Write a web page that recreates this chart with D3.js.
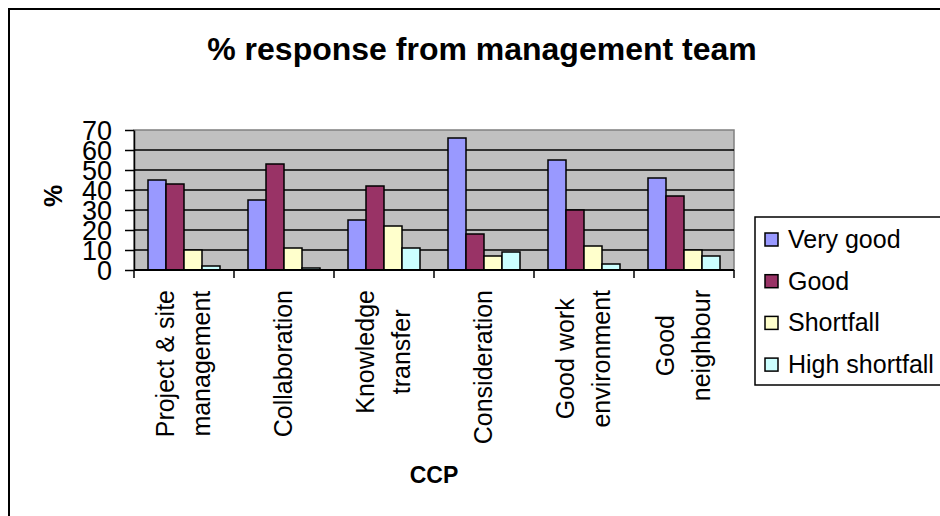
<html>
<head>
    <meta http-equiv="Content-Type" content="text/html;charset=utf-8">
    <title>% response from management team</title>
    <style>
        body { margin: 0; background: #fff; }
        text { font-family: Arial, "Liberation Sans", sans-serif; }
    </style>
</head>
<body>
</body>
<script type="text/javascript" src="https://cdn.jsdelivr.net/npm/d3@7/dist/d3.min.js"></script>
<script>
    var w = 940, h = 516;

    // chart data
    var categories = [
        ['Project & site', 'management'],
        ['Collaboration'],
        ['Knowledge', 'transfer'],
        ['Consideration'],
        ['Good work', 'environment'],
        ['Good', 'neighbour']
    ];
    var seriesNames = ['Very good', 'Good', 'Shortfall', 'High shortfall'];
    var veryGood = [45, 35, 25, 66, 55, 46];
    var good = [43, 53, 42, 18, 30, 37];
    var shortfall = [10, 11, 22, 7, 12, 10];
    var highShortfall = [2, 1, 11, 9, 3, 7];
    var yTicks = [0, 10, 20, 30, 40, 50, 60, 70];
    var colors = ['#9999FF', '#993366', '#FFFFCC', '#CCFFFF'];

    var seriesValues = [veryGood, good, shortfall, highShortfall];
    var catKeys = categories.map(function (c, i) { return i; });

    var plot = {left: 134, right: 734, top: 130, bottom: 270};

    var svg = d3.select('body')
            .append('svg')
            .attr('width', w)
            .attr('height', h);

    // outer chart frame (runs off the right and bottom edges)
    svg.append('rect')
            .attr('x', 9).attr('y', 9)
            .attr('width', 960).attr('height', 540)
            .attr('fill', '#fff')
            .attr('stroke', '#000')
            .attr('stroke-width', 2);

    var x0 = d3.scaleBand()
            .domain(catKeys)
            .range([plot.left, plot.right])
            .paddingInner(0.28)
            .paddingOuter(0.14);

    var x1 = d3.scaleBand()
            .domain(d3.range(seriesNames.length))
            .range([0, x0.bandwidth()]);

    var y = d3.scaleLinear()
            .domain([0, 70])
            .range([plot.bottom, plot.top]);

    // plot background
    svg.append('rect')
            .attr('x', plot.left).attr('y', plot.top)
            .attr('width', plot.right - plot.left)
            .attr('height', plot.bottom - plot.top)
            .attr('fill', '#C0C0C0')
            .attr('stroke', '#808080')
            .attr('stroke-width', 1.5);

    // gridlines
    svg.append('g')
            .selectAll('line')
            .data(yTicks.slice(1, -1))
            .enter()
            .append('line')
            .attr('x1', plot.left).attr('x2', plot.right)
            .attr('y1', function (d) { return y(d); })
            .attr('y2', function (d) { return y(d); })
            .attr('stroke', '#000')
            .attr('stroke-width', 1.5);

    // bars
    var groups = svg.append('g')
            .selectAll('g')
            .data(catKeys)
            .enter()
            .append('g')
            .attr('transform', function (d) { return 'translate(' + x0(d) + ',0)'; });

    groups.selectAll('rect')
            .data(function (ci) {
                return seriesValues.map(function (vals, si) {
                    return {s: si, v: vals[ci]};
                });
            })
            .enter()
            .append('rect')
            .attr('x', function (d) { return x1(d.s); })
            .attr('y', function (d) { return y(d.v); })
            .attr('width', x1.bandwidth())
            .attr('height', function (d) { return y(0) - y(d.v); })
            .attr('fill', function (d) { return colors[d.s]; })
            .attr('stroke', '#000')
            .attr('stroke-width', 1.5);

    // y axis
    var yAxis = svg.append('g')
            .attr('transform', 'translate(' + plot.left + ',0)')
            .call(d3.axisLeft(y).tickValues(yTicks).tickSize(9).tickSizeOuter(0).tickPadding(13));
    yAxis.select('.domain').attr('stroke', '#000').attr('stroke-width', 1.5);
    yAxis.selectAll('.tick line').attr('stroke', '#000').attr('stroke-width', 1.5);
    yAxis.selectAll('.tick text')
            .attr('font-size', 27)
            .attr('font-family', 'Arial, "Liberation Sans", sans-serif')
            .attr('fill', '#000')
            .attr('dy', '0.36em');

    // x axis line and category boundary ticks
    var xAxis = svg.append('g');
    xAxis.append('line')
            .attr('x1', plot.left).attr('x2', plot.right)
            .attr('y1', plot.bottom).attr('y2', plot.bottom)
            .attr('stroke', '#000').attr('stroke-width', 2);
    var bounds = catKeys.map(function (d) { return x0(d) - x0.step() * x0.paddingOuter(); });
    bounds.push(plot.right);
    xAxis.selectAll('line.tk')
            .data(bounds)
            .enter()
            .append('line')
            .attr('class', 'tk')
            .attr('x1', function (d) { return d; })
            .attr('x2', function (d) { return d; })
            .attr('y1', plot.bottom)
            .attr('y2', plot.bottom + 8)
            .attr('stroke', '#000').attr('stroke-width', 1.5);

    // rotated category labels, lines centred within a block hung from the axis
    var lineGap = 36, labelTop = 290;
    var labels = xAxis.selectAll('g.lbl')
            .data(catKeys)
            .enter()
            .append('g')
            .attr('class', 'lbl');
    labels.each(function (ci) {
        var g = d3.select(this);
        var lines = categories[ci];
        var cx = x0(ci) + x0.bandwidth() / 2;
        var texts = lines.map(function (t, li) {
            var bx = cx + (li - (lines.length - 1) / 2) * lineGap + 8;
            return g.append('text')
                    .text(t)
                    .attr('font-size', 25)
                    .attr('text-anchor', 'middle')
                    .attr('fill', '#000')
                    .attr('data-bx', bx);
        });
        var maxW = d3.max(texts, function (t) { return t.node().getComputedTextLength(); });
        texts.forEach(function (t) {
            var bx = +t.attr('data-bx');
            var by = labelTop + maxW / 2;
            t.attr('transform', 'translate(' + bx + ',' + by + ') rotate(-90)');
        });
    });

    // title and axis titles
    svg.append('text')
            .text('% response from management team')
            .attr('x', 482).attr('y', 60)
            .attr('text-anchor', 'middle')
            .attr('font-size', 32)
            .attr('font-weight', 'bold');

    svg.append('text')
            .text('CCP')
            .attr('x', 434).attr('y', 483)
            .attr('text-anchor', 'middle')
            .attr('font-size', 23)
            .attr('font-weight', 'bold');

    svg.append('text')
            .text('%')
            .attr('text-anchor', 'middle')
            .attr('transform', 'translate(62,196) rotate(-90)')
            .attr('font-size', 25)
            .attr('font-weight', 'bold');

    // legend
    var legend = svg.append('g');
    legend.append('rect')
            .attr('x', 755).attr('y', 217)
            .attr('width', 200).attr('height', 168)
            .attr('fill', '#fff')
            .attr('stroke', '#000')
            .attr('stroke-width', 1.5);
    var items = legend.selectAll('g.item')
            .data(seriesNames)
            .enter()
            .append('g')
            .attr('class', 'item')
            .attr('transform', function (d, i) { return 'translate(765,' + (248 + i * 41.7) + ')'; });
    items.append('rect')
            .attr('x', 0).attr('y', -15)
            .attr('width', 13).attr('height', 13)
            .attr('fill', function (d, i) { return colors[i]; })
            .attr('stroke', '#000')
            .attr('stroke-width', 1.5);
    items.append('text')
            .text(function (d) { return d; })
            .attr('x', 23).attr('y', 0)
            .attr('font-size', 25)
            .attr('fill', '#000');
</script>

</html>
